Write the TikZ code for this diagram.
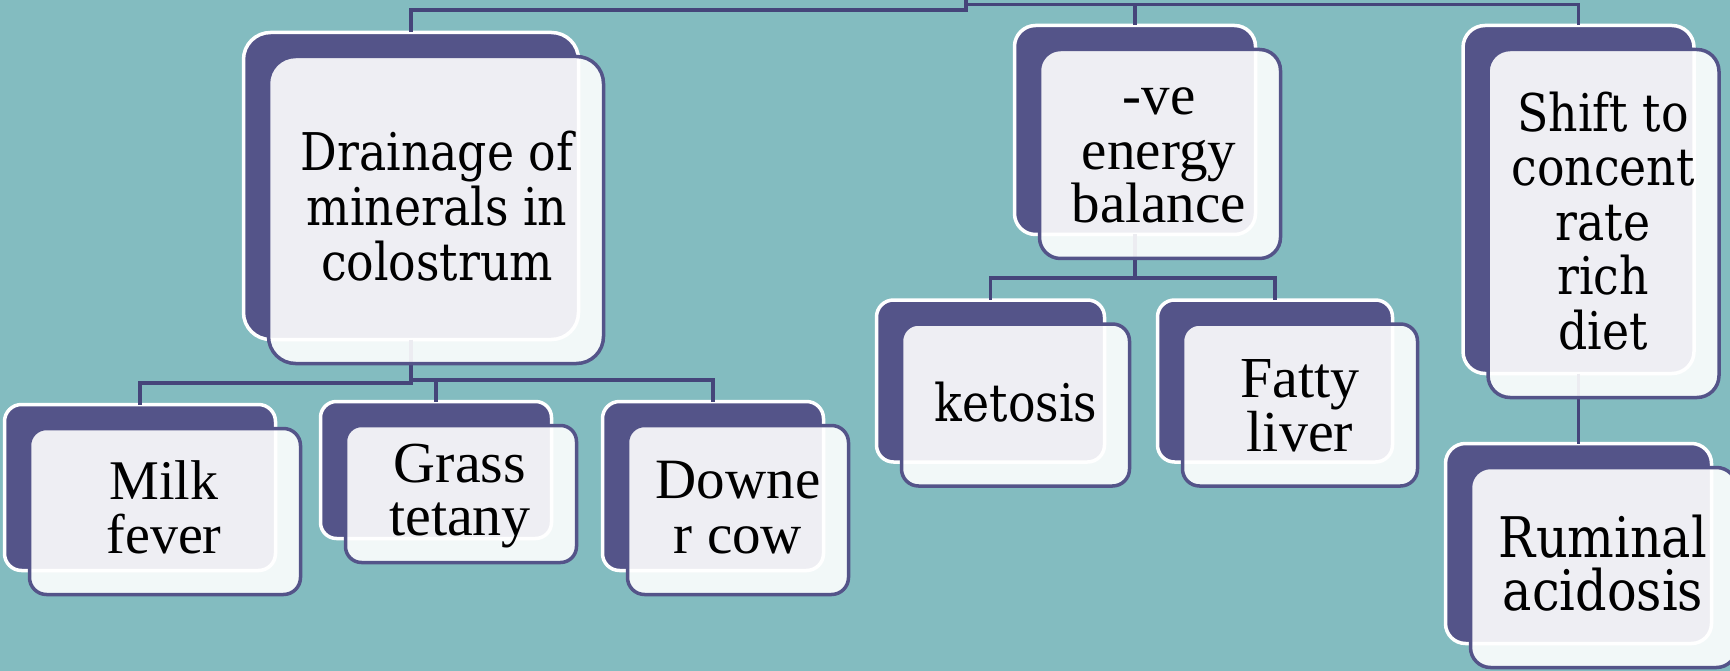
\documentclass[tikz,border=0pt]{standalone}
\usepackage{fontspec}
\newfontfamily\geo[FakeStretch=0.88]{DejaVu Serif}
\newfontfamily\tms{Liberation Serif}
\definecolor{bgteal}{HTML}{83BCC0}
\definecolor{boxpurple}{HTML}{545489}
\definecolor{linkcol}{HTML}{45457A}
\tikzset{
  backbox/.style={draw=white, line width=3.5pt, fill=boxpurple, rectangle, inner sep=0pt, outer sep=0pt},
  frontbox/.style={draw=boxpurple, line width=3.5pt, fill=white, fill opacity=0.9, text opacity=1, rectangle, inner sep=0pt, outer sep=0pt},
  link/.style={draw=linkcol, line width=3.5pt},
  lbl/.style={align=center, text=black, inner sep=0pt, anchor=base},
}
\newcommand\backb[6]{\node[backbox, rounded corners=#6pt, minimum width=#4pt, minimum height=#5pt] (#1) at (#2,#3) {};}
\newcommand\frontb[6]{\node[frontbox, rounded corners=#6pt, minimum width=#4pt, minimum height=#5pt] (#1F) at (#2+25,#3+24) {};}
\newcommand\allboxes[1]{%
  #1{drain}{411}{186}{335}{307}{27}
  #1{milk}{140}{487.5}{271}{166}{17}
  #1{grass}{436}{470}{231}{137}{16}
  #1{downe}{713}{486}{221}{169}{17}
  #1{ve}{1135}{130}{241}{209}{21}
  #1{keto}{990.5}{381}{228}{162}{17}
  #1{fatty}{1275}{381}{235}{162}{17}
  #1{shift}{1578.5}{199.5}{231}{348}{22}
  #1{rumen}{1578.5}{543.5}{266}{200}{20}
}
\begin{document}
\begin{tikzpicture}[x=1pt,y=-1pt]
\fill[bgteal] (0,0) rectangle (1730,671);
\useasboundingbox (0,0) rectangle (1730,671);
% back boxes
\allboxes{\backb}
% connectors
\coordinate (root) at (966,-3);
\coordinate (jL) at (966,10);
\coordinate (jR) at (966,4.5);
\draw[link] (root) -- (jL) -| (drain.north);
\draw[link] (jR) -| (shift.north);
\draw[link] (jR) -| (ve.north);
\coordinate (dL) at (411,383);
\coordinate (dR) at (411,380);
\draw[link] (drain.south) -- (dL) -| (milk.north);
\draw[link] (dR) -| (grass.north);
\draw[link] (dR) -| (downe.north);
\coordinate (vj) at (1135,278);
\draw[link] (ve.south) -- (vj) -| (keto.north);
\draw[link] (vj) -| (fatty.north);
\draw[link] (shift.south) -- (rumen.north);
% front boxes
\allboxes{\frontb}
% labels (anchor base = last line's baseline)
\node[lbl, font={\geo\fontsize{52}{55}\selectfont}] (tdrain) at (437,280) {Drainage of\\minerals in\\colostrum};
\node[lbl, font={\tms\fontsize{56}{54}\selectfont}] (tmilk) at (164,553) {Milk\\fever};
\node[lbl, font={\tms\fontsize{58}{53}\selectfont}] (tgrass) at (460,535) {Grass\\tetany};
\node[lbl, font={\tms\fontsize{57}{55}\selectfont}] (tdowne) at (738,553) {Downe\\r cow};
\node[lbl, font={\tms\fontsize{57}{54}\selectfont}] (tve) at (1159,223) {-ve\\energy\\balance};
\node[lbl, font={\geo\fontsize{52}{55}\selectfont}] (tketo) at (1016,421) {ketosis};
\node[lbl, font={\tms\fontsize{58}{51}\selectfont}] (tfatty) at (1300,451) {Fatty\\liver};
\node[lbl, font={\geo\fontsize{52}{54.5}\selectfont}] (tshift) at (1603,349) {Shift to\\concent\\rate\\rich\\diet};
\node[lbl, font={\geo\fontsize{56}{53}\selectfont}] (trumen) at (1603,610) {Ruminal\\acidosis};
\end{tikzpicture}
\end{document}
